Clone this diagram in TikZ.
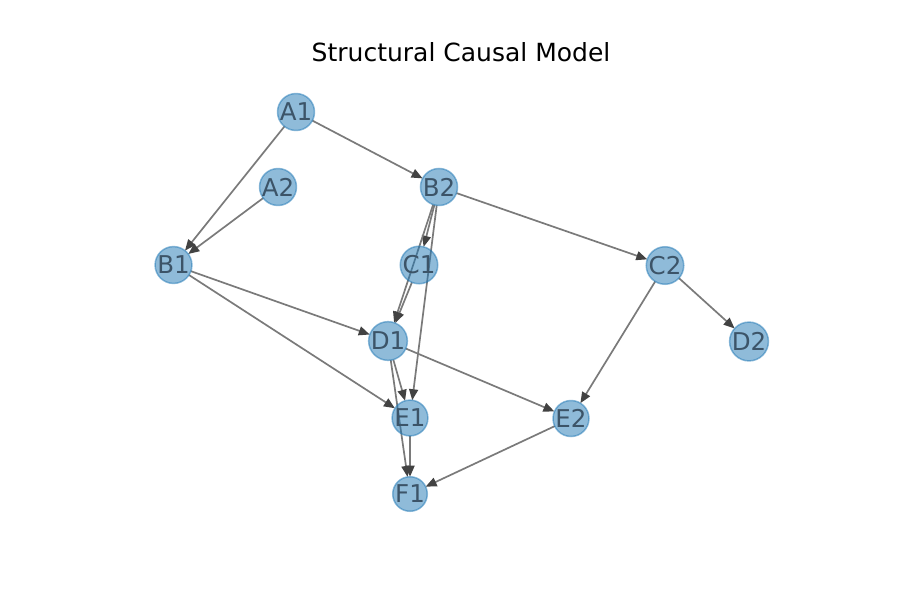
\documentclass[tikz,border=0pt]{standalone}
\usepackage{fontspec}
\setmainfont{DejaVu Sans}
\usetikzlibrary{arrows.meta}
\pgfdeclarelayer{edges}
\pgfsetlayers{edges,main}
\definecolor{nodeblue}{RGB}{31,119,180}
\definecolor{edgegray}{RGB}{122,122,122}
\definecolor{tipgray}{RGB}{66,66,66}
\definecolor{labelink}{RGB}{60,84,104}
\tikzset{
  var/.style={circle, inner sep=0pt, outer sep=0pt, minimum size=33pt,
    fill=nodeblue, fill opacity=0.5, draw=nodeblue, draw opacity=0.5,
    line width=1.5pt, text opacity=1, text=labelink,
    font=\fontsize{24.5}{24.5}\selectfont},
  causal/.style={draw=edgegray, line width=1.7pt,
    -{Triangle[length=11pt,width=9pt,fill=tipgray,color=tipgray]}},
}
\begin{document}
\begin{tikzpicture}[x=1pt,y=-1pt]
\useasboundingbox (0,0) rectangle (900,600);
\node[font=\fontsize{25}{25}\selectfont] (title) at (461,52) {Structural Causal Model};

\node[var] (A1) at (296,112) {A1};
\node[var] (A2) at (278,187) {A2};
\node[var] (B1) at (173.5,265) {B1};
\node[var] (B2) at (439,187) {B2};
\node[var] (C1) at (419,265) {C1};
\node[var] (C2) at (665,265.5) {C2};
\node[var] (D1) at (388,341) {D1};
\node[var] (D2) at (749,341.5) {D2};
\node[var] (E1) at (410,418) {E1};
\node[var] (E2) at (571,418.5) {E2};
\node[var] (F1) at (410,494) {F1};

\begin{pgfonlayer}{edges}
\draw[causal] (A1) -- (B1);
\draw[causal] (A1) -- (B2);
\draw[causal] (A2) -- (B1);
\draw[causal] (B1) -- (D1);
\draw[causal] (B1) -- (E1);
\draw[causal] (B2) -- (C1);
\draw[causal] (B2) -- (D1);
\draw[causal] (B2) -- (E1);
\draw[causal] (B2) -- (C2);
\draw[causal] (C1) -- (D1);
\draw[causal] (C2) -- (D2);
\draw[causal] (C2) -- (E2);
\draw[causal] (D1) -- (E1);
\draw[causal] (D1) -- (E2);
\draw[causal] (D1) -- (F1);
\draw[causal] (E1) -- (F1);
\draw[causal] (E2) -- (F1);
\end{pgfonlayer}
\end{tikzpicture}
\end{document}
